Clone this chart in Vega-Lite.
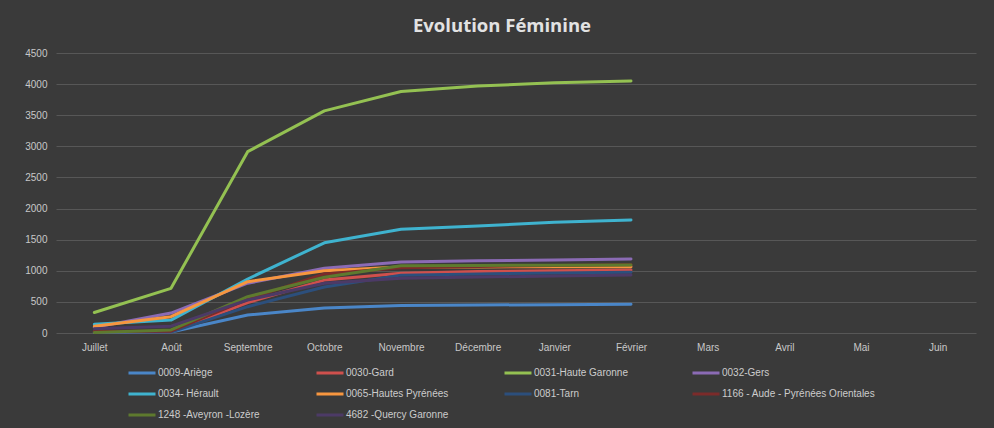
{
  "$schema": "https://vega.github.io/schema/vega-lite/v6.json",
  "width": 920,
  "height": 280,
  "autosize": {"type": "none"},
  "padding": {"left": 56, "top": 53, "right": 18, "bottom": 95},
  "background": "#3a3a3a",
  "title": {
    "text": "Evolution Féminine",
    "anchor": "middle",
    "dx": -14,
    "offset": 13,
    "fontSize": 18.5,
    "fontWeight": "bold",
    "font": "Open Sans",
    "color": "#e2e2e2"
  },
  "config": {
    "view": {"stroke": null},
    "font": "Liberation Sans",
    "axis": {
      "labelFont": "Liberation Sans",
      "labelFontSize": 10,
      "labelColor": "#c8c8c8",
      "ticks": false,
      "domain": false,
      "title": null
    }
  },
  "data": {
    "values": [
      {"mois": "Juillet", "serie": "0009-Ariège", "v": 10},
      {"mois": "Août", "serie": "0009-Ariège", "v": 15},
      {"mois": "Septembre", "serie": "0009-Ariège", "v": 290},
      {"mois": "Octobre", "serie": "0009-Ariège", "v": 400},
      {"mois": "Novembre", "serie": "0009-Ariège", "v": 440},
      {"mois": "Décembre", "serie": "0009-Ariège", "v": 450},
      {"mois": "Janvier", "serie": "0009-Ariège", "v": 455},
      {"mois": "Février", "serie": "0009-Ariège", "v": 462},

      {"mois": "Juillet", "serie": "0030-Gard", "v": 20},
      {"mois": "Août", "serie": "0030-Gard", "v": 20},
      {"mois": "Septembre", "serie": "0030-Gard", "v": 490},
      {"mois": "Octobre", "serie": "0030-Gard", "v": 850},
      {"mois": "Novembre", "serie": "0030-Gard", "v": 960},
      {"mois": "Décembre", "serie": "0030-Gard", "v": 990},
      {"mois": "Janvier", "serie": "0030-Gard", "v": 1000},
      {"mois": "Février", "serie": "0030-Gard", "v": 1012},

      {"mois": "Juillet", "serie": "0031-Haute Garonne", "v": 330},
      {"mois": "Août", "serie": "0031-Haute Garonne", "v": 718},
      {"mois": "Septembre", "serie": "0031-Haute Garonne", "v": 2914},
      {"mois": "Octobre", "serie": "0031-Haute Garonne", "v": 3570},
      {"mois": "Novembre", "serie": "0031-Haute Garonne", "v": 3880},
      {"mois": "Décembre", "serie": "0031-Haute Garonne", "v": 3970},
      {"mois": "Janvier", "serie": "0031-Haute Garonne", "v": 4020},
      {"mois": "Février", "serie": "0031-Haute Garonne", "v": 4050},

      {"mois": "Juillet", "serie": "0032-Gers", "v": 90},
      {"mois": "Août", "serie": "0032-Gers", "v": 320},
      {"mois": "Septembre", "serie": "0032-Gers", "v": 800},
      {"mois": "Octobre", "serie": "0032-Gers", "v": 1040},
      {"mois": "Novembre", "serie": "0032-Gers", "v": 1140},
      {"mois": "Décembre", "serie": "0032-Gers", "v": 1160},
      {"mois": "Janvier", "serie": "0032-Gers", "v": 1175},
      {"mois": "Février", "serie": "0032-Gers", "v": 1189},

      {"mois": "Juillet", "serie": "0034- Hérault", "v": 140},
      {"mois": "Août", "serie": "0034- Hérault", "v": 208},
      {"mois": "Septembre", "serie": "0034- Hérault", "v": 868},
      {"mois": "Octobre", "serie": "0034- Hérault", "v": 1450},
      {"mois": "Novembre", "serie": "0034- Hérault", "v": 1666},
      {"mois": "Décembre", "serie": "0034- Hérault", "v": 1720},
      {"mois": "Janvier", "serie": "0034- Hérault", "v": 1780},
      {"mois": "Février", "serie": "0034- Hérault", "v": 1816},

      {"mois": "Juillet", "serie": "0065-Hautes Pyrénées", "v": 110},
      {"mois": "Août", "serie": "0065-Hautes Pyrénées", "v": 262},
      {"mois": "Septembre", "serie": "0065-Hautes Pyrénées", "v": 825},
      {"mois": "Octobre", "serie": "0065-Hautes Pyrénées", "v": 1000},
      {"mois": "Novembre", "serie": "0065-Hautes Pyrénées", "v": 1060},
      {"mois": "Décembre", "serie": "0065-Hautes Pyrénées", "v": 1062},
      {"mois": "Janvier", "serie": "0065-Hautes Pyrénées", "v": 1064},
      {"mois": "Février", "serie": "0065-Hautes Pyrénées", "v": 1066},

      {"mois": "Juillet", "serie": "0081-Tarn", "v": 20},
      {"mois": "Août", "serie": "0081-Tarn", "v": 15},
      {"mois": "Septembre", "serie": "0081-Tarn", "v": 423},
      {"mois": "Octobre", "serie": "0081-Tarn", "v": 740},
      {"mois": "Novembre", "serie": "0081-Tarn", "v": 930},
      {"mois": "Décembre", "serie": "0081-Tarn", "v": 950},
      {"mois": "Janvier", "serie": "0081-Tarn", "v": 965},
      {"mois": "Février", "serie": "0081-Tarn", "v": 975},

      {"mois": "Juillet", "serie": "1166 - Aude - Pyrénées Orientales", "v": 30},
      {"mois": "Août", "serie": "1166 - Aude - Pyrénées Orientales", "v": 30},
      {"mois": "Septembre", "serie": "1166 - Aude - Pyrénées Orientales", "v": 540},
      {"mois": "Octobre", "serie": "1166 - Aude - Pyrénées Orientales", "v": 950},
      {"mois": "Novembre", "serie": "1166 - Aude - Pyrénées Orientales", "v": 1050},
      {"mois": "Décembre", "serie": "1166 - Aude - Pyrénées Orientales", "v": 1070},
      {"mois": "Janvier", "serie": "1166 - Aude - Pyrénées Orientales", "v": 1085},
      {"mois": "Février", "serie": "1166 - Aude - Pyrénées Orientales", "v": 1095},

      {"mois": "Juillet", "serie": "1248 -Aveyron -Lozère", "v": 10},
      {"mois": "Août", "serie": "1248 -Aveyron -Lozère", "v": 50},
      {"mois": "Septembre", "serie": "1248 -Aveyron -Lozère", "v": 583},
      {"mois": "Octobre", "serie": "1248 -Aveyron -Lozère", "v": 895},
      {"mois": "Novembre", "serie": "1248 -Aveyron -Lozère", "v": 1080},
      {"mois": "Décembre", "serie": "1248 -Aveyron -Lozère", "v": 1085},
      {"mois": "Janvier", "serie": "1248 -Aveyron -Lozère", "v": 1090},
      {"mois": "Février", "serie": "1248 -Aveyron -Lozère", "v": 1093},

      {"mois": "Juillet", "serie": "4682 -Quercy Garonne", "v": 70},
      {"mois": "Août", "serie": "4682 -Quercy Garonne", "v": 110},
      {"mois": "Septembre", "serie": "4682 -Quercy Garonne", "v": 530},
      {"mois": "Octobre", "serie": "4682 -Quercy Garonne", "v": 800},
      {"mois": "Novembre", "serie": "4682 -Quercy Garonne", "v": 880},
      {"mois": "Décembre", "serie": "4682 -Quercy Garonne", "v": 900},
      {"mois": "Janvier", "serie": "4682 -Quercy Garonne", "v": 915},
      {"mois": "Février", "serie": "4682 -Quercy Garonne", "v": 932}
    ]
  },
  "mark": {"type": "line", "strokeWidth": 3, "strokeCap": "round", "strokeJoin": "round"},
  "encoding": {
    "x": {
      "field": "mois",
      "type": "nominal",
      "sort": null,
      "scale": {
        "type": "point",
        "padding": 0.5,
        "domain": ["Juillet", "Août", "Septembre", "Octobre", "Novembre", "Décembre", "Janvier", "Février", "Mars", "Avril", "Mai", "Juin"]
      },
      "axis": {"labelAngle": 0, "labelPadding": 9, "grid": false}
    },
    "y": {
      "field": "v",
      "type": "quantitative",
      "scale": {"domain": [0, 4500], "nice": false},
      "axis": {
        "values": [0, 500, 1000, 1500, 2000, 2500, 3000, 3500, 4000, 4500],
        "format": "d",
        "labelPadding": 9,
        "grid": true,
        "gridColor": "#575757",
        "gridWidth": 1
      }
    },
    "color": {
      "field": "serie",
      "type": "nominal",
      "scale": {
        "domain": ["0009-Ariège", "0030-Gard", "0031-Haute Garonne", "0032-Gers", "0034- Hérault", "0065-Hautes Pyrénées", "0081-Tarn", "1166 - Aude - Pyrénées Orientales", "1248 -Aveyron -Lozère", "4682 -Quercy Garonne"],
        "range": ["#4a86c8", "#cf504d", "#94c152", "#8b6bb5", "#3fb3cf", "#f7963f", "#2c4f7c", "#7b2b2a", "#5e7a2e", "#4c3a66"]
      },
      "legend": {
        "title": null,
        "orient": "none",
        "legendX": 71,
        "legendY": 312,
        "direction": "horizontal",
        "columns": 4,
        "gridAlign": "all",
        "symbolType": "stroke",
        "symbolSize": 729,
        "symbolStrokeWidth": 3,
        "clipHeight": 16,
        "labelOffset": 1,
        "labelFont": "Liberation Sans",
        "labelFontSize": 10,
        "labelColor": "#cccccc",
        "labelLimit": 300,
        "columnPadding": 3,
        "rowPadding": 5
      }
    }
  }
}
